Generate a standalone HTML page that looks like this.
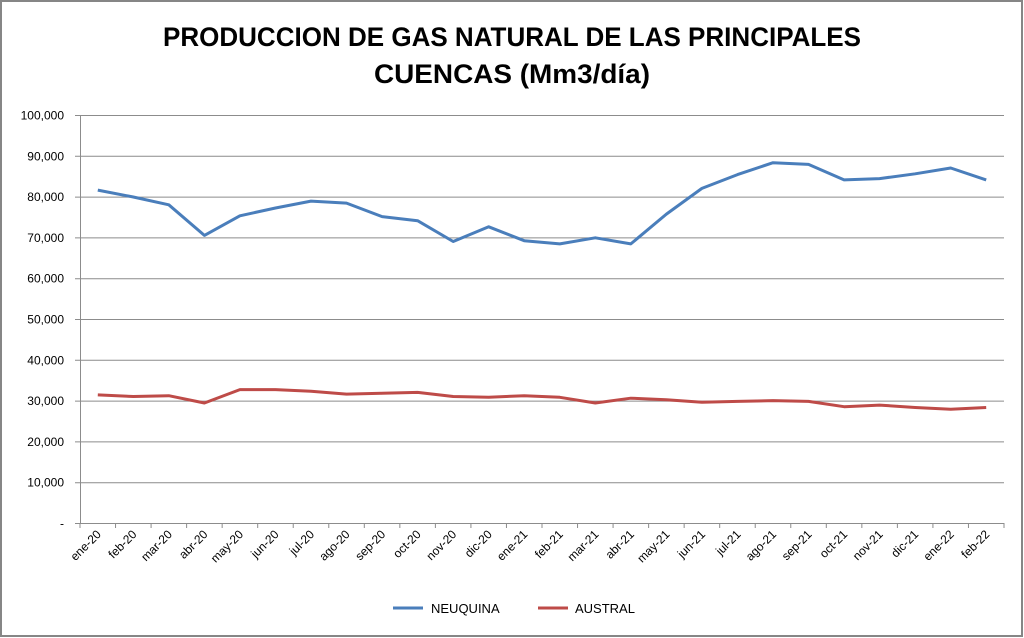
<!DOCTYPE html>
<html><head><meta charset="utf-8"><style>
body{margin:0;background:#fff;}
svg{display:block;font-family:"Liberation Sans",sans-serif;}
</style></head><body>
<svg width="1024" height="638" viewBox="0 0 1024 638" xmlns="http://www.w3.org/2000/svg">
<rect x="0" y="0" width="1024" height="638" fill="#fff"/>
<rect x="1" y="1" width="1021" height="635" fill="none" stroke="#868686" stroke-width="2"/>
<text x="512" y="46" text-anchor="middle" font-size="27" font-weight="bold" textLength="698" lengthAdjust="spacingAndGlyphs">PRODUCCION DE GAS NATURAL DE LAS PRINCIPALES</text>
<text x="512" y="83" text-anchor="middle" font-size="27" font-weight="bold" textLength="276" lengthAdjust="spacingAndGlyphs">CUENCAS (Mm3/día)</text>
<g id="grid" stroke="#8c8c8c" stroke-width="1"></g>
<g id="ylab" font-size="12" fill="#000" text-anchor="end"></g>
<g id="xlab" font-size="12" fill="#000"></g>
<polyline id="neu" fill="none" stroke="#4a7ebb" stroke-width="3" stroke-linejoin="round"/>
<polyline id="aus" fill="none" stroke="#be4b48" stroke-width="3" stroke-linejoin="round"/>
<line x1="393" y1="608" x2="423" y2="608" stroke="#4a7ebb" stroke-width="3"/>
<text x="431" y="613" font-size="13">NEUQUINA</text>
<line x1="538" y1="608" x2="568" y2="608" stroke="#be4b48" stroke-width="3"/>
<text x="575" y="613" font-size="13">AUSTRAL</text>
</svg>
<script>
const ns="http://www.w3.org/2000/svg";
const L=80,R=1004,T=115,B=523;
const Y=v=>B-(v/100)*(B-T);
const g=document.getElementById('grid'),yl=document.getElementById('ylab'),xl=document.getElementById('xlab');
function el(p,t,a){const e=document.createElementNS(ns,t);for(const k in a)e.setAttribute(k,a[k]);p.appendChild(e);return e;}
for(let i=0;i<=10;i++){const y=Y(i*10)+0.5;
 el(g,'line',{x1:L-5,y1:y,x2:R,y2:y});
 const t=el(yl,'text',{x:64,y:y+4});t.textContent=i==0?'-':(i*10)+',000';}
el(g,'line',{x1:L+0.5,y1:T,x2:L+0.5,y2:B});
const labs=['ene-20','feb-20','mar-20','abr-20','may-20','jun-20','jul-20','ago-20','sep-20','oct-20','nov-20','dic-20','ene-21','feb-21','mar-21','abr-21','may-21','jun-21','jul-21','ago-21','sep-21','oct-21','nov-21','dic-21','ene-22','feb-22'];
const w=(R-L)/26;
for(let i=0;i<=26;i++){const x=L+i*w;el(g,'line',{x1:x,y1:B,x2:x,y2:B+5});}
labs.forEach((s,i)=>{const x=L+(i+0.5)*w+4,y=B+12;
 const t=el(xl,'text',{x:x,y:y,'text-anchor':'end',transform:`rotate(-45 ${x} ${y})`});t.textContent=s;});
const neu=[81.6,79.9,78.0,70.5,75.3,77.2,78.9,78.4,75.1,74.1,69.0,72.6,69.2,68.4,69.9,68.4,75.7,82.0,85.4,88.3,87.9,84.1,84.4,85.6,87.0,84.1];
const aus=[31.4,31.0,31.2,29.4,32.7,32.7,32.3,31.6,31.8,32.0,31.0,30.8,31.2,30.8,29.4,30.6,30.2,29.6,29.8,30.0,29.8,28.5,28.9,28.3,27.9,28.3];
const pts=a=>a.map((v,i)=>(L+(i+0.5)*w).toFixed(1)+','+Y(v).toFixed(1)).join(' ');
document.getElementById('neu').setAttribute('points',pts(neu));
document.getElementById('aus').setAttribute('points',pts(aus));
</script>
</body></html>
